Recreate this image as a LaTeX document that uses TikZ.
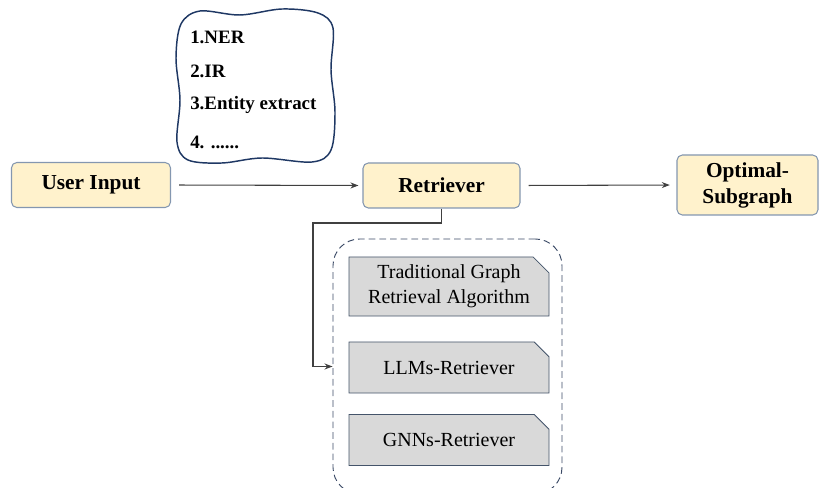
\documentclass[tikz,border=0pt]{standalone}
\usepackage{fontspec}
\setmainfont{Liberation Serif}
\usetikzlibrary{arrows.meta,shapes.misc}
\definecolor{stagefill}{HTML}{FFF2CC}
\definecolor{stageedge}{HTML}{8497B0}
\definecolor{methodfill}{HTML}{D9D9D9}
\definecolor{methodedge}{HTML}{44546A}
\definecolor{cloudedge}{HTML}{1F3864}
\definecolor{groupedge}{HTML}{3B4A66}
\definecolor{linkgray}{HTML}{404040}
\begin{document}
\begin{tikzpicture}[x=0.75pt,y=-0.75pt,
  stage/.style={draw=stageedge, fill=stagefill, rounded corners=4pt, line width=0.8pt,
    font=\bfseries\fontsize{16}{19.5}\selectfont, align=center, inner sep=0pt},
  method/.style={chamfered rectangle, chamfered rectangle corners=north east,
    chamfered rectangle xsep=6pt, chamfered rectangle ysep=6pt,
    draw=methodedge, fill=methodfill, line width=0.6pt,
    minimum width=150pt, minimum height=38.25pt, inner sep=0pt,
    font=\fontsize{15}{18.75}\selectfont, align=center},
  listitem/.style={anchor=west, inner sep=0pt, font=\bfseries\fontsize{14.2}{16}\selectfont},
  group/.style={draw=groupedge, line width=0.7pt, dash pattern=on 5pt off 3pt,
    rounded corners=20pt, minimum width=171.75pt, minimum height=191.25pt, inner sep=0pt},
  link/.style={draw=linkgray, line width=0.8pt, -{Stealth[length=6pt,width=4.5pt]}}]
\useasboundingbox (0,0) rectangle (825,488);
\clip (0,0) rectangle (825,488);

% pipeline stages
\node[stage, minimum width=119.25pt, minimum height=33.75pt] (user) at (91,185) {User Input};
\node[stage, minimum width=117.75pt, minimum height=33.75pt] (retr) at (441.5,185.5) {Retriever};
\node[stage, minimum width=105.75pt, minimum height=45pt] (opt) at (747.5,185) {Optimal-\\Subgraph};

\draw[link, shorten <=6pt, shorten >=3pt] (user.east) -- (retr.west);
\draw[link, shorten <=6pt, shorten >=5pt] (retr.east) -- (opt.west);

% hand-drawn note with the retrieval tasks
\draw[cloudedge, line width=1.1pt] plot[smooth cycle, tension=0.55] coordinates {
  (200,11) (240,15) (282,9) (318,13) (333,28) (331,70) (335,112) (331,150)
  (312,162) (262,158) (222,163) (188,160) (177,142) (180,100) (176,58) (181,24)};
\node[listitem] (t1) at (190,37) {1.NER};
\node[listitem] (t2) at (190,71) {2.IR};
\node[listitem] (t3) at (190,105) {3.Entity extract};
\node[listitem] (t4) at (190,142) {4. ......};

% retriever families
\node[group] (grp) at (447.5,366.5) {};
\node[method] (m1) at (449,286.5) {Traditional Graph\\Retrieval Algorithm};
\node[method] (m2) at (449,367.5) {LLMs-Retriever};
\node[method] (m3) at (449,440) {GNNs-Retriever};

\coordinate (k1) at (313,223);
\draw[link] (retr.south) -- (retr.south |- k1) -- (k1) |- (grp.west);
\end{tikzpicture}
\end{document}
